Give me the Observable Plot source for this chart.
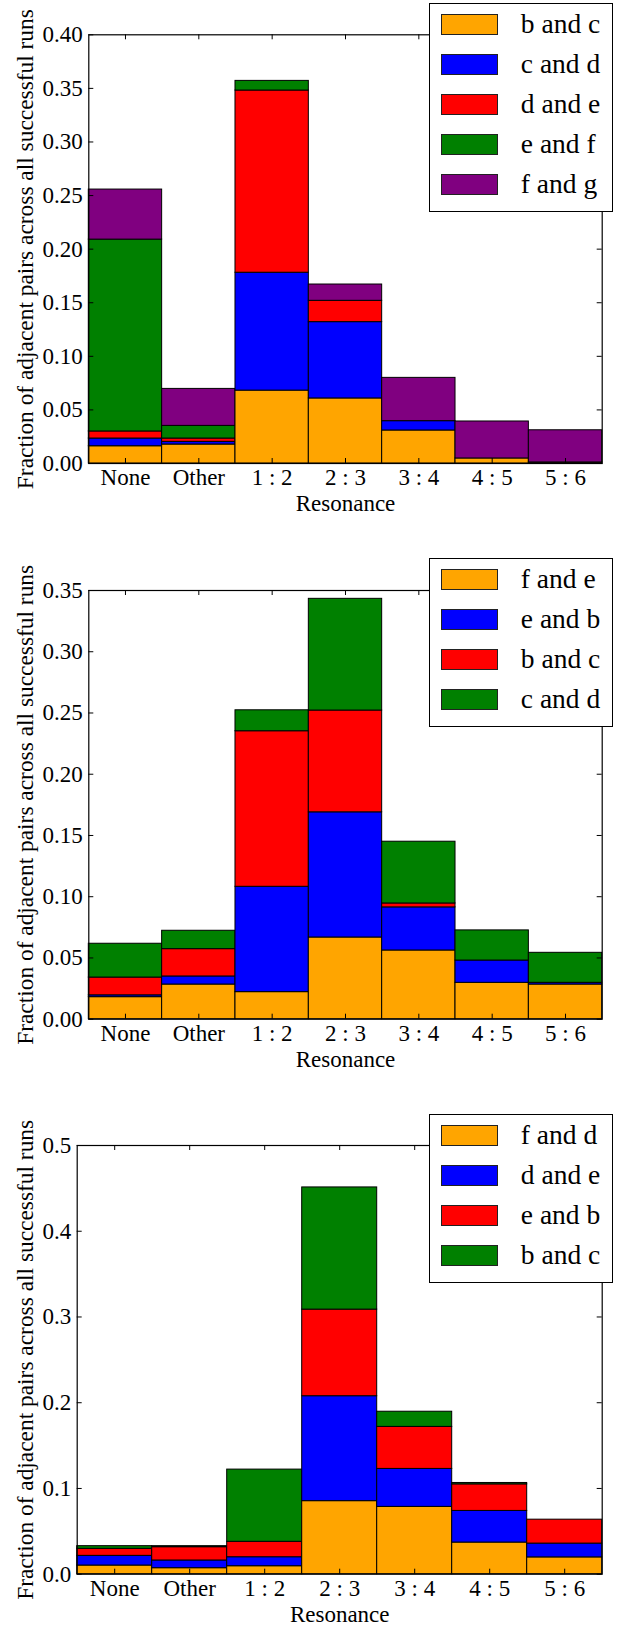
<!DOCTYPE html>
<html>
<head>
<meta charset="utf-8">
<script src="https://cdn.jsdelivr.net/npm/d3@7"></script>
<script src="https://cdn.jsdelivr.net/npm/@observablehq/plot@0.6"></script>
<style>
  html, body { margin: 0; padding: 0; background: #fff; }
  #root { position: relative; width: 619px; height: 1628px; font-family: "Liberation Serif", "Times New Roman", "DejaVu Serif", serif; overflow: hidden; }
  .panel { position: absolute; left: 0; }
  svg text { font-family: "Liberation Serif", "Times New Roman", "DejaVu Serif", serif; }
  .legend { position: absolute; background: #fff; border: 1px solid #000; box-sizing: border-box; z-index: 5; }
  .sw { position: absolute; box-sizing: border-box; border: 1px solid #222; }
  .lt { position: absolute; font-size: 27.5px; line-height: 1; color: #000; white-space: nowrap; font-family: "Liberation Serif", "Times New Roman", "DejaVu Serif", serif; }
</style>
</head>
<body>
<div id="root"></div>
<script>
// ---------- data ----------
const categories = ["None", "Other", "1 : 2", "2 : 3", "3 : 4", "4 : 5", "5 : 6"];
const colors = ["#FFA500", "#0000FF", "#FF0000", "#008000", "#800080"];
const yTitle = "Fraction of adjacent pairs across all successful runs";
const xTitle = "Resonance";

// Panel 1
const series1 = ["b and c", "c and d", "d and e", "e and f", "f and g"];
const p1_bc = [0.0161, 0.0177, 0.0680, 0.0607, 0.0308, 0.0047, 0.0010];
const p1_cd = [0.0072, 0.0025, 0.1100, 0.0712, 0.0087, 0.0000, 0.0000];
const p1_de = [0.0066, 0.0031, 0.1700, 0.0199, 0.0000, 0.0000, 0.0000];
const p1_ef = [0.1790, 0.0118, 0.0090, 0.0000, 0.0000, 0.0000, 0.0000];
const p1_fg = [0.0467, 0.0345, 0.0000, 0.0152, 0.0404, 0.0345, 0.0300];
const yTicks1 = [0, 0.05, 0.10, 0.15, 0.20, 0.25, 0.30, 0.35, 0.40];

// Panel 2
const series2 = ["f and e", "e and b", "b and c", "c and d"];
const p2_fe = [0.0180, 0.0283, 0.0221, 0.0667, 0.0561, 0.0297, 0.0283];
const p2_eb = [0.0015, 0.0066, 0.0860, 0.1022, 0.0352, 0.0182, 0.0014];
const p2_bc = [0.0145, 0.0223, 0.1270, 0.0831, 0.0032, 0.0000, 0.0000];
const p2_cd = [0.0276, 0.0150, 0.0171, 0.0912, 0.0504, 0.0246, 0.0245];
const yTicks2 = [0, 0.05, 0.10, 0.15, 0.20, 0.25, 0.30, 0.35];

// Panel 3
const series3 = ["f and d", "d and e", "e and b", "b and c"];
const p3_fd = [0.0101, 0.0070, 0.0093, 0.0852, 0.0785, 0.0369, 0.0196];
const p3_de = [0.0113, 0.0090, 0.0105, 0.1224, 0.0443, 0.0369, 0.0161];
const p3_eb = [0.0082, 0.0155, 0.0180, 0.1010, 0.0490, 0.0310, 0.0279];
const p3_bc = [0.0031, 0.0012, 0.0842, 0.1425, 0.0177, 0.0016, 0.0000];
const yTicks3 = [0, 0.1, 0.2, 0.3, 0.4, 0.5];

// ---------- build ----------
const FONT = '"Liberation Serif", "Times New Roman", "DejaVu Serif", serif';

function stackRows(names, valueLists) {
  const rows = [];
  categories.forEach((c, i) => {
    let acc = 0;
    names.forEach((n, s) => {
      const v = valueLists[s][i];
      rows.push({idx: i, cat: c, series: n, y1: acc, y2: acc + v});
      acc += v;
    });
  });
  return rows;
}

const root = document.getElementById("root");
const W = 619;
const xTicks = categories.map((c, i) => i + 0.5);

function panel(cfg) {
  const {top, height, mt, mb, ml, mr, names, values, yTicks, fmt, legendTop} = cfg;
  const rows = stackRows(names, values);
  const innerW = W - ml - mr;
  const innerH = height - mt - mb;
  const yMax = yTicks[yTicks.length - 1];
  const svg = Plot.plot({
    width: W, height,
    marginTop: mt, marginBottom: mb, marginLeft: ml, marginRight: mr,
    style: {fontFamily: FONT, fontSize: "23px", color: "#000", background: "transparent", overflow: "visible"},
    x: {domain: [0, categories.length]},
    y: {domain: [0, yMax]},
    color: {domain: names, range: colors.slice(0, names.length)},
    marks: [
      Plot.rect(rows, {x1: "idx", x2: d => d.idx + 1, y1: "y1", y2: "y2", fill: "series", stroke: "#000", strokeWidth: 1}),
      Plot.frame({stroke: "#000", strokeWidth: 1.2}),
      Plot.tickY(yTicks, {y: d => d, stroke: "#000", insetRight: innerW - 5}),
      Plot.tickY(yTicks, {y: d => d, stroke: "#000", insetLeft: innerW - 5}),
      Plot.tickX(xTicks, {x: d => d, stroke: "#000", insetTop: innerH - 5}),
      Plot.tickX(xTicks, {x: d => d, stroke: "#000", insetBottom: innerH - 5}),
      Plot.axisY({ticks: yTicks, tickSize: 0, tickPadding: 6, tickFormat: d3.format(fmt), label: null, fontSize: 23, fontFamily: FONT}),
      Plot.axisX({ticks: xTicks, tickSize: 0, tickPadding: 5, tickFormat: v => categories[Math.floor(v)], label: null, fontSize: 23, fontFamily: FONT}),
      Plot.text([xTitle], {text: d => d, frameAnchor: "bottom", lineAnchor: "middle", textAnchor: "middle", dy: 40, fontSize: 23, fontFamily: FONT}),
      Plot.text([yTitle], {text: d => d, frameAnchor: "left", lineAnchor: "middle", textAnchor: "middle", rotate: -90, dx: 25 - ml, fontSize: 23.4, fontFamily: FONT})
    ]
  });
  const wrap = document.createElement("div");
  wrap.className = "panel";
  wrap.style.top = top + "px";
  wrap.appendChild(svg);
  root.appendChild(wrap);

  // legend
  const lg = document.createElement("div");
  lg.className = "legend";
  lg.style.left = "429.3px";
  lg.style.top = legendTop + "px";
  lg.style.width = "184px";
  lg.style.height = (11 + 40 * (names.length - 1) + 20 + 18) + "px";
  names.forEach((n, i) => {
    const sw = document.createElement("div");
    sw.className = "sw";
    sw.style.left = "11px";
    sw.style.top = (10 + 40 * i) + "px";
    sw.style.width = "57px";
    sw.style.height = "20.5px";
    sw.style.background = colors[i];
    lg.appendChild(sw);
    const t = document.createElement("div");
    t.className = "lt";
    t.textContent = n;
    t.style.left = "90.5px";
    t.style.top = (20.5 + 40 * i - 14.5) + "px";
    lg.appendChild(t);
  });
  root.appendChild(lg);
}

panel({top: 0, height: 540, mt: 34.3, mb: 77, ml: 88.3, mr: 17.3,
  names: series1, values: [p1_bc, p1_cd, p1_de, p1_ef, p1_fg], yTicks: yTicks1, fmt: ".2f", legendTop: 3.3});
panel({top: 540, height: 540, mt: 50, mb: 61.3, ml: 88.3, mr: 17.3,
  names: series2, values: [p2_fe, p2_eb, p2_bc, p2_cd], yTicks: yTicks2, fmt: ".2f", legendTop: 558.3});
panel({top: 1080, height: 548, mt: 65, mb: 54.3, ml: 76.7, mr: 17.3,
  names: series3, values: [p3_fd, p3_de, p3_eb, p3_bc], yTicks: yTicks3, fmt: ".1f", legendTop: 1114});
</script>
</body>
</html>
